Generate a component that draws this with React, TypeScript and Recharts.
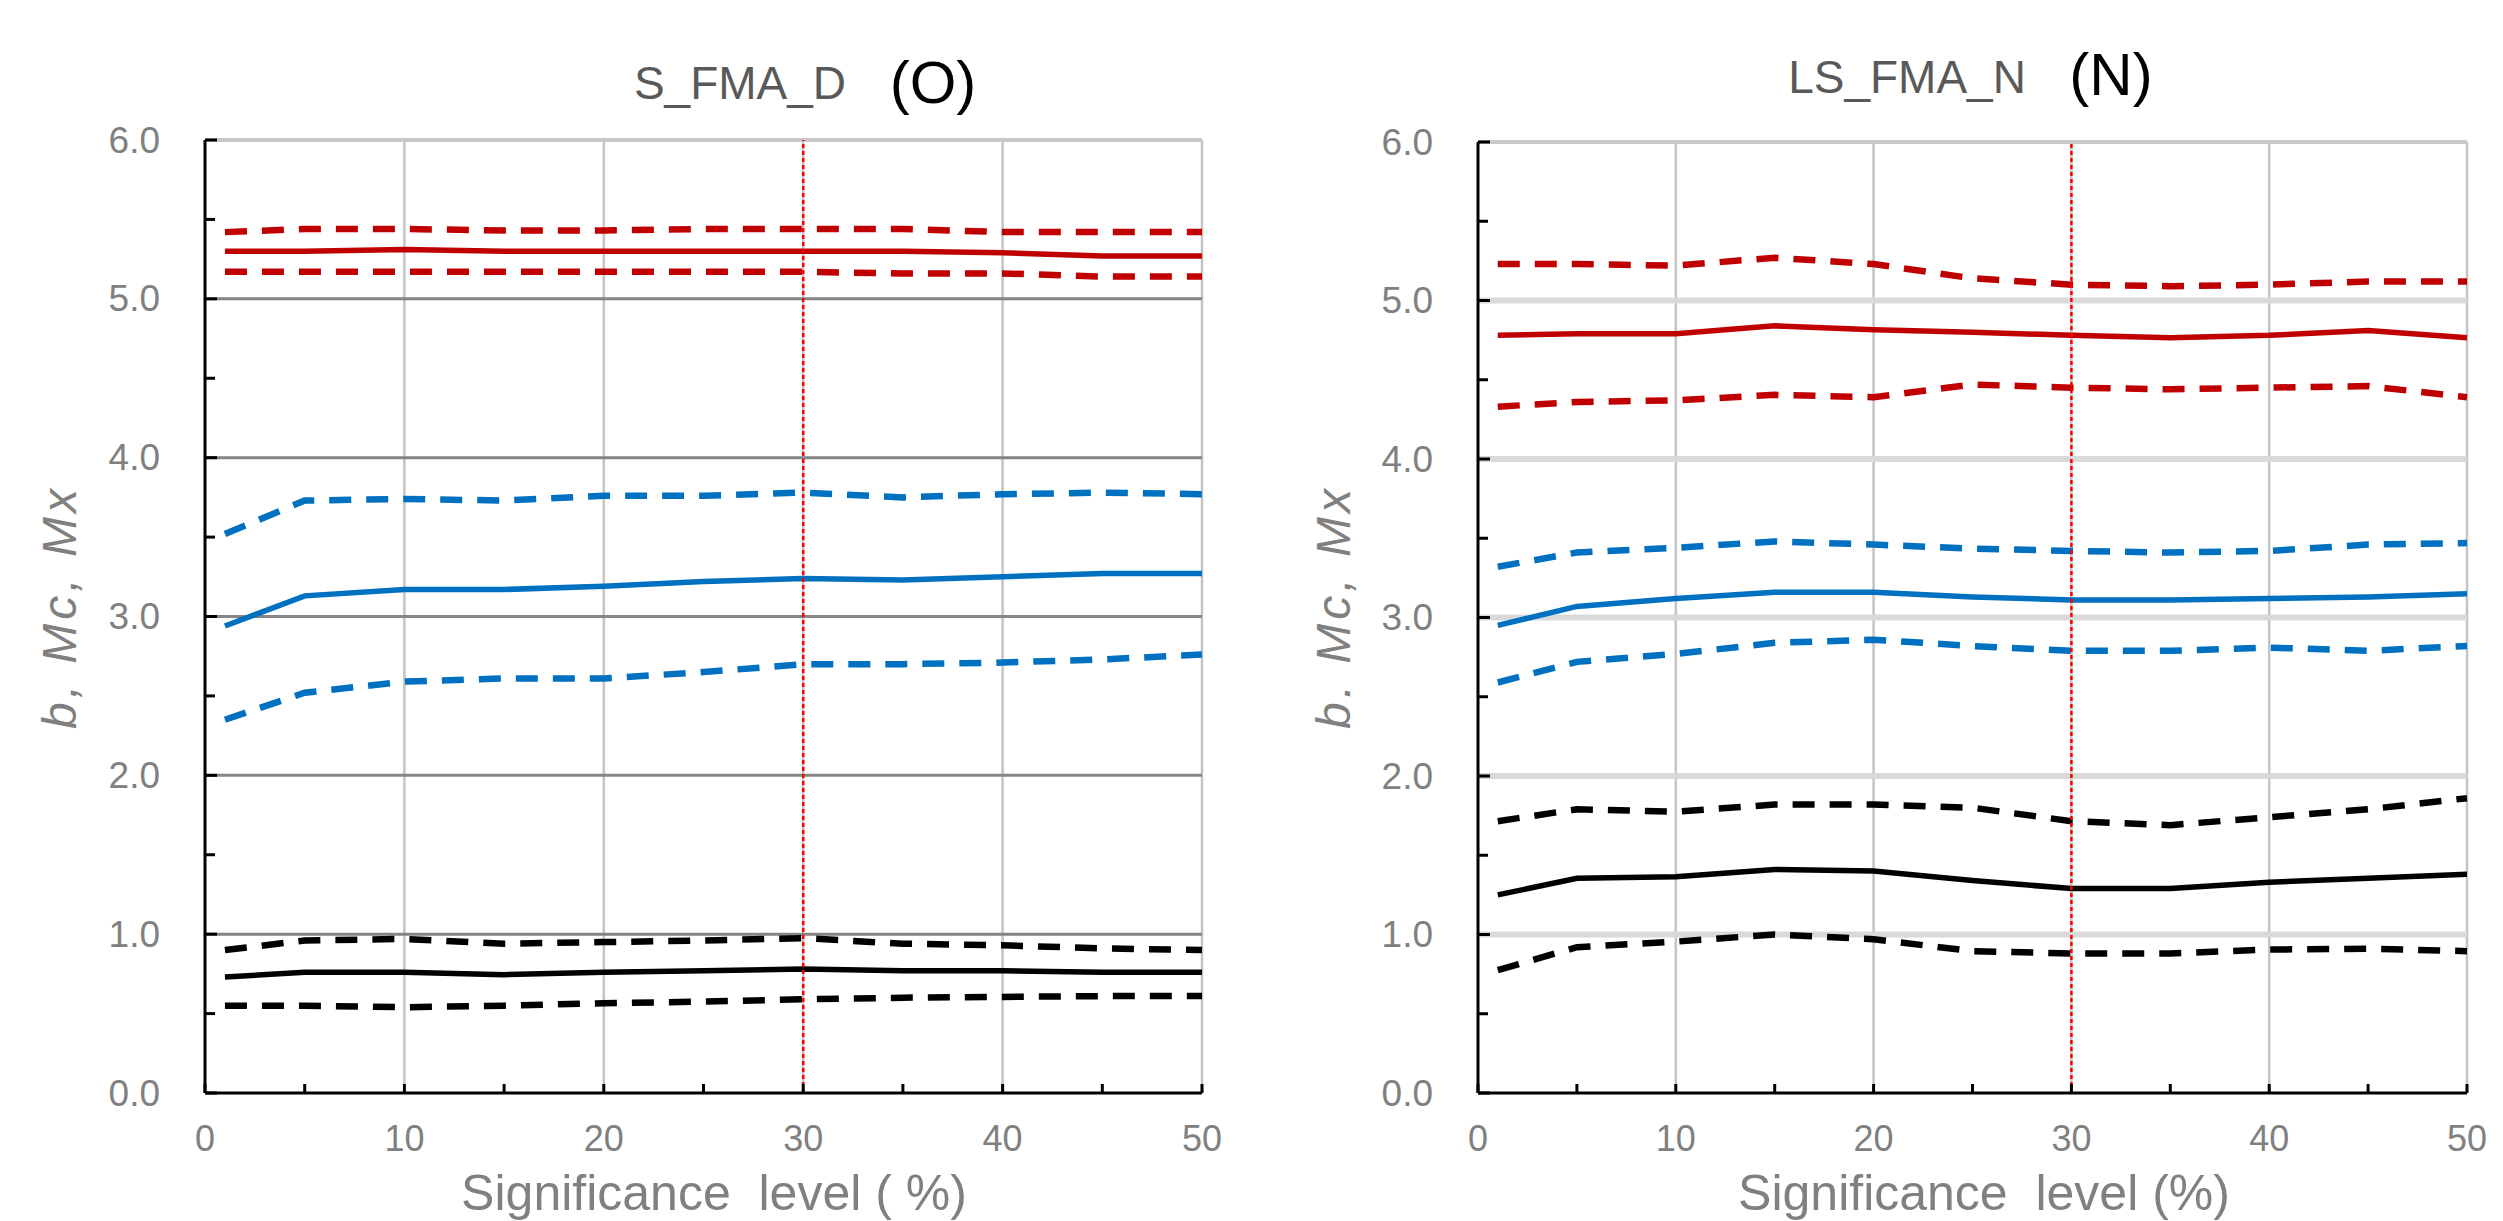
import React from "react";
import { LineChart, Line, XAxis, YAxis, CartesianGrid, ReferenceLine } from "recharts";

const xValues = [1, 5, 10, 15, 20, 25, 30, 35, 40, 45, 50];

// Panel (O): S_FMA_D
const redUpperO = [5.42, 5.44, 5.44, 5.43, 5.43, 5.44, 5.44, 5.44, 5.42, 5.42, 5.42];
const redMidO = [5.3, 5.3, 5.31, 5.3, 5.3, 5.3, 5.3, 5.3, 5.29, 5.27, 5.27];
const redLowerO = [5.17, 5.17, 5.17, 5.17, 5.17, 5.17, 5.17, 5.16, 5.16, 5.14, 5.14];
const blueUpperO = [3.52, 3.73, 3.74, 3.73, 3.76, 3.76, 3.78, 3.75, 3.77, 3.78, 3.77];
const blueMidO = [2.94, 3.13, 3.17, 3.17, 3.19, 3.22, 3.24, 3.23, 3.25, 3.27, 3.27];
const blueLowerO = [2.35, 2.52, 2.59, 2.61, 2.61, 2.65, 2.7, 2.7, 2.71, 2.73, 2.76];
const blackUpperO = [0.9, 0.96, 0.97, 0.94, 0.95, 0.96, 0.975, 0.94, 0.93, 0.91, 0.9];
const blackMidO = [0.73, 0.76, 0.76, 0.745, 0.76, 0.77, 0.78, 0.77, 0.77, 0.76, 0.76];
const blackLowerO = [0.55, 0.55, 0.54, 0.55, 0.565, 0.575, 0.59, 0.6, 0.605, 0.61, 0.61];

// Panel (N): LS_FMA_N
const redUpperN = [5.23, 5.23, 5.22, 5.27, 5.23, 5.14, 5.1, 5.09, 5.1, 5.12, 5.12];
const redMidN = [4.78, 4.79, 4.79, 4.84, 4.815, 4.8, 4.78, 4.765, 4.78, 4.81, 4.765];
const redLowerN = [4.33, 4.36, 4.37, 4.405, 4.39, 4.47, 4.45, 4.44, 4.45, 4.46, 4.39];
const blueUpperN = [3.32, 3.41, 3.44, 3.48, 3.46, 3.435, 3.42, 3.41, 3.42, 3.46, 3.47];
const blueMidN = [2.95, 3.07, 3.12, 3.16, 3.16, 3.13, 3.11, 3.11, 3.12, 3.13, 3.15];
const blueLowerN = [2.59, 2.72, 2.77, 2.84, 2.86, 2.82, 2.79, 2.79, 2.81, 2.79, 2.82];
const blackUpperN = [1.715, 1.79, 1.775, 1.82, 1.82, 1.8, 1.715, 1.69, 1.74, 1.79, 1.86];
const blackMidN = [1.25, 1.355, 1.365, 1.41, 1.4, 1.34, 1.29, 1.29, 1.33, 1.355, 1.38];
const blackLowerN = [0.775, 0.92, 0.955, 1.0, 0.97, 0.895, 0.88, 0.88, 0.905, 0.91, 0.895];

const yTicks = [0, 0.5, 1, 1.5, 2, 2.5, 3, 3.5, 4, 4.5, 5, 5.5, 6];
const yLabelTicks = [0, 1, 2, 3, 4, 5, 6];
const xTicks = [0, 5, 10, 15, 20, 25, 30, 35, 40, 45, 50];
const xLabelTicks = [0, 10, 20, 30, 40, 50];
const horizontalGridValues = [1, 2, 3, 4, 5];
const verticalGridValues = [10, 20, 30, 40, 50];
const cutoffLevel = 30;

const FONT = '"Liberation Sans", Arial, sans-serif';
const RED = "#C00000";
const BLUE = "#0070C0";
const BLACK = "#000000";

function buildRows(s: number[][]) {
  return xValues.map((x, i) => ({
    x,
    rU: s[0][i], r: s[1][i], rL: s[2][i],
    bU: s[3][i], b: s[4][i], bL: s[5][i],
    kU: s[6][i], k: s[7][i], kL: s[8][i],
  }));
}

const rowsO = buildRows([redUpperO, redMidO, redLowerO, blueUpperO, blueMidO, blueLowerO, blackUpperO, blackMidO, blackLowerO]);
const rowsN = buildRows([redUpperN, redMidN, redLowerN, blueUpperN, blueMidN, blueLowerN, blackUpperN, blackMidN, blackLowerN]);

const YTick = (props: any) => {
  const { x, y, payload } = props;
  const v = payload.value as number;
  const major = yLabelTicks.includes(v);
  return (
    <g>
      <line x1={x} x2={x + (major ? 12 : 10)} y1={y} y2={y} stroke="#000" strokeWidth={3} />
      {major && (
        <text x={x - 45} y={y} textAnchor="end" dominantBaseline="central" fill="#808080" fontSize={37} fontFamily={FONT}>
          {v.toFixed(1)}
        </text>
      )}
    </g>
  );
};

const XTick = (props: any) => {
  const { x, y, payload } = props;
  const v = payload.value as number;
  const major = xLabelTicks.includes(v);
  return (
    <g>
      <line x1={x} x2={x} y1={y} y2={y - 9} stroke="#000" strokeWidth={3} />
      {major && (
        <text x={x} y={y + 45} textAnchor="middle" dominantBaseline="central" fill="#808080" fontSize={36} fontFamily={FONT}>
          {v}
        </text>
      )}
    </g>
  );
};

type PanelProps = {
  rows: any[];
  left: number;
  width: number;
  margin: { top: number; right: number; bottom: number; left: number };
  hGridColor: string;
  hGridWidth: number;
};

function Panel({ rows, left, width, margin, hGridColor, hGridWidth }: PanelProps) {
  const dash = "22 15";
  const dw = 6.5;
  const sw = 5.5;
  return (
    <div style={{ position: "absolute", left, top: 0 }}>
      <LineChart width={width} height={1221} data={rows} margin={margin}>
        <CartesianGrid horizontal={false} verticalValues={verticalGridValues} stroke="#C4C4C4" strokeWidth={2.5} />
        <CartesianGrid vertical={false} horizontalValues={[6]} stroke="#C8C8C8" strokeWidth={4} />
        <CartesianGrid vertical={false} horizontalValues={horizontalGridValues} stroke={hGridColor} strokeWidth={hGridWidth} />
        <XAxis
          dataKey="x"
          type="number"
          domain={[0, 50]}
          ticks={xTicks}
          interval={0}
          height={60}
          tickSize={0}
          tickMargin={0}
          tick={<XTick />}
          axisLine={{ stroke: "#000", strokeWidth: 3 }}
          tickLine={false}
        />
        <YAxis
          type="number"
          domain={[0, 6]}
          ticks={yTicks}
          interval={0}
          width={80}
          tickSize={0}
          tickMargin={0}
          tick={<YTick />}
          axisLine={{ stroke: "#000", strokeWidth: 3 }}
          tickLine={false}
        />
        <Line type="linear" dataKey="rU" stroke={RED} strokeWidth={dw} strokeDasharray={dash} dot={false} isAnimationActive={false} />
        <Line type="linear" dataKey="r" stroke={RED} strokeWidth={sw} dot={false} isAnimationActive={false} />
        <Line type="linear" dataKey="rL" stroke={RED} strokeWidth={dw} strokeDasharray={dash} dot={false} isAnimationActive={false} />
        <Line type="linear" dataKey="bU" stroke={BLUE} strokeWidth={dw} strokeDasharray={dash} dot={false} isAnimationActive={false} />
        <Line type="linear" dataKey="b" stroke={BLUE} strokeWidth={sw} dot={false} isAnimationActive={false} />
        <Line type="linear" dataKey="bL" stroke={BLUE} strokeWidth={dw} strokeDasharray={dash} dot={false} isAnimationActive={false} />
        <Line type="linear" dataKey="kU" stroke={BLACK} strokeWidth={dw} strokeDasharray={dash} dot={false} isAnimationActive={false} />
        <Line type="linear" dataKey="k" stroke={BLACK} strokeWidth={sw} dot={false} isAnimationActive={false} />
        <Line type="linear" dataKey="kL" stroke={BLACK} strokeWidth={dw} strokeDasharray={dash} dot={false} isAnimationActive={false} />
        <ReferenceLine x={cutoffLevel} stroke="#FF0000" strokeWidth={2.5} strokeDasharray="4 3" />
      </LineChart>
    </div>
  );
}

const textBase: React.CSSProperties = {
  position: "absolute",
  whiteSpace: "nowrap",
  fontFamily: FONT,
  lineHeight: 1,
};

function Txt({ x, y, size, color, children, italic, rotate, spacing }: any) {
  return (
    <div
      style={{
        ...textBase,
        left: x,
        top: y,
        fontSize: size,
        color,
        letterSpacing: spacing || 0,
        fontStyle: italic ? "italic" : "normal",
        transform: `translate(-50%, -50%)${rotate ? " rotate(-90deg)" : ""}`,
      }}
    >
      {children}
    </div>
  );
}

export default function App() {
  return (
    <div style={{ position: "absolute", left: 0, top: 0, width: 2503, height: 1221, background: "#fff", overflow: "hidden" }}>
      <Panel rows={rowsO} left={0} width={1251} margin={{ top: 140, right: 49, bottom: 68, left: 125 }} hGridColor="#858585" hGridWidth={3} />
      <Panel rows={rowsN} left={1251} width={1252} margin={{ top: 142, right: 36, bottom: 68, left: 147 }} hGridColor="#D9D9D9" hGridWidth={6} />

      <Txt x={740} y={83} size={46} color="#595959">S_FMA_D</Txt>
      <Txt x={933} y={83} size={60} color="#000">(O)</Txt>
      <Txt x={1907} y={77} size={46} color="#595959">LS_FMA_N</Txt>
      <Txt x={2111} y={75} size={60} color="#000">(N)</Txt>

      <Txt x={60} y={607} size={48} color="#808080" italic rotate spacing={4}>b, Mc, Mx</Txt>
      <Txt x={1334} y={607} size={48} color="#808080" italic rotate spacing={4}>b. Mc, Mx</Txt>

      <Txt x={714} y={1193} size={50} color="#808080">Significance&nbsp; level ( %)</Txt>
      <Txt x={1984} y={1193} size={50} color="#808080">Significance&nbsp; level (%)</Txt>
    </div>
  );
}
